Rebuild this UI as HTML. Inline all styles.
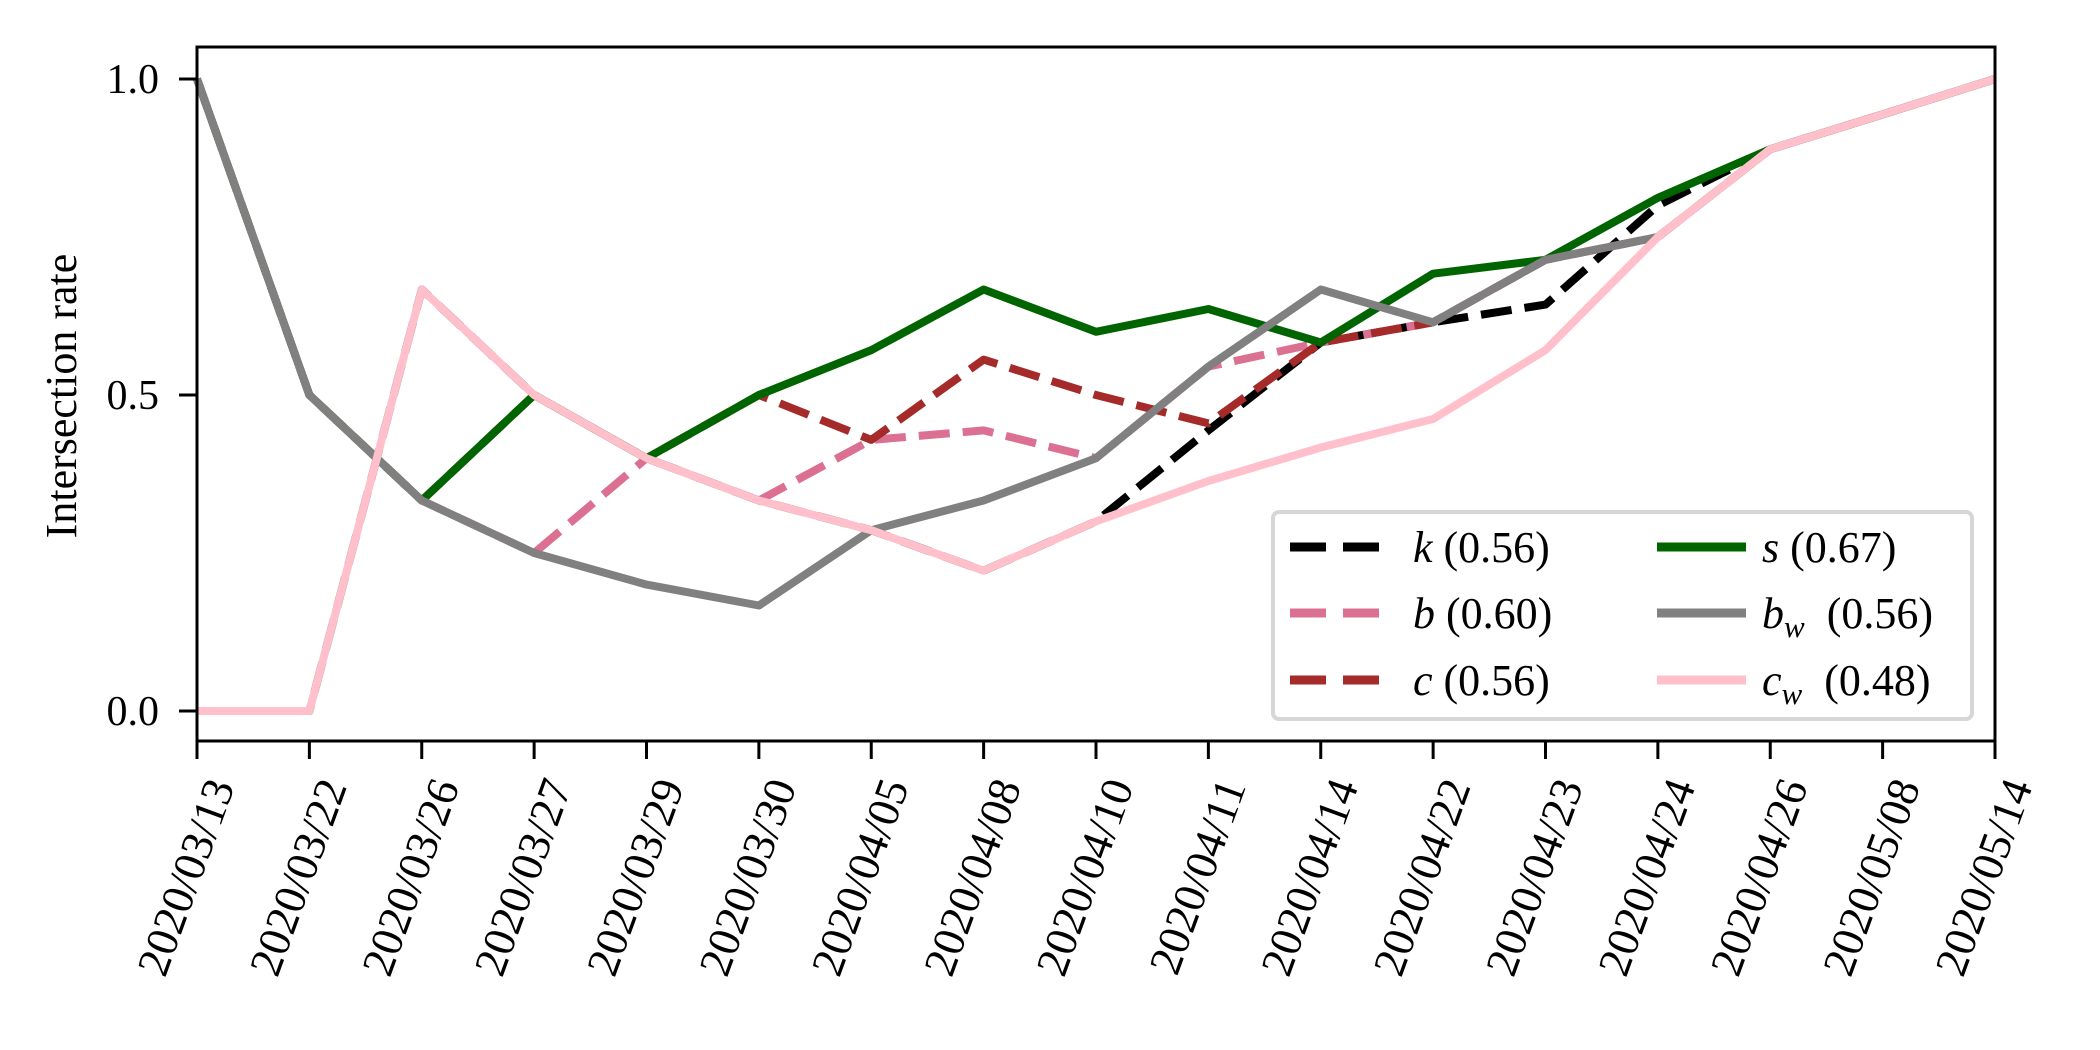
<!DOCTYPE html>
<html><head><meta charset="utf-8">
<style>
html,body{margin:0;padding:0;background:#fff;}
svg{display:block;font-family:"Liberation Serif",serif;}
</style></head>
<body>
<svg id="chart" width="2100" height="1050" viewBox="0 0 2100 1050" xmlns="http://www.w3.org/2000/svg">
<rect x="0" y="0" width="2100" height="1050" fill="#fff"/>
<g id="plot"></g>
<g id="axes"></g>
<g id="legend"></g>
</svg>
<script>
const categories = ["2020/03/13","2020/03/22","2020/03/26","2020/03/27","2020/03/29","2020/03/30","2020/04/05","2020/04/08","2020/04/10","2020/04/11","2020/04/14","2020/04/22","2020/04/23","2020/04/24","2020/04/26","2020/05/08","2020/05/14"];
const kValues  = [0,0,0.667,0.5,0.4,0.333,0.286,0.222,0.3,0.444,0.583,0.615,0.643,0.8,0.889,0.944,1.0];
const bValues  = [1.0,0.5,0.333,0.25,0.4,0.333,0.429,0.444,0.4,0.545,0.583,0.615,0.714,0.75,0.889,0.944,1.0];
const cValues  = [1.0,0.5,0.333,0.5,0.4,0.5,0.429,0.556,0.5,0.455,0.583,0.615,0.714,0.75,0.889,0.944,1.0];
const sValues  = [1.0,0.5,0.333,0.5,0.4,0.5,0.571,0.667,0.6,0.636,0.583,0.692,0.714,0.812,0.889,0.944,1.0];
const bwValues = [1.0,0.5,0.333,0.25,0.2,0.167,0.286,0.333,0.4,0.545,0.667,0.615,0.714,0.75,0.889,0.944,1.0];
const cwValues = [0,0,0.667,0.5,0.4,0.333,0.286,0.222,0.3,0.364,0.417,0.462,0.571,0.75,0.889,0.944,1.0];
const yTicks = [0.0,0.5,1.0];
const yTickLabels = ["0.0","0.5","1.0"];
const seriesNames = ["k","b","c","s","b_w","c_w"];
const seriesScores = ["0.56","0.60","0.56","0.67","0.56","0.48"];

const NS="http://www.w3.org/2000/svg";
const L=197, R=1995, T=47, B=741;
const Y0=711, Y1=79;
function xs(i){return L + i*(R-L)/(categories.length-1);}
function ys(v){return Y0 + v*(Y1-Y0);}
function mk(tag,attrs,parent){const e=document.createElementNS(NS,tag);for(const k in attrs)e.setAttribute(k,attrs[k]);parent.appendChild(e);return e;}

const plot=document.getElementById('plot');
const axes=document.getElementById('axes');
const legend=document.getElementById('legend');

const series=[
 {vals:kValues,color:"#000000",dash:"31 13",name:"series-k"},
 {vals:bValues,color:"#db7093",dash:"31 13",name:"series-b"},
 {vals:cValues,color:"#a52a2a",dash:"31 13",name:"series-c"},
 {vals:sValues,color:"#006400",dash:"",name:"series-s"},
 {vals:bwValues,color:"#808080",dash:"",name:"series-b-w"},
 {vals:cwValues,color:"#ffc0cb",dash:"",name:"series-c-w"}
];
series.forEach(s=>{
  const d=s.vals.map((v,i)=>(i?"L":"M")+xs(i).toFixed(1)+","+ys(v).toFixed(1)).join(" ");
  const p=mk('path',{d:d,fill:"none",stroke:s.color,"stroke-width":8,"stroke-linejoin":"round"},plot);
  if(s.dash)p.setAttribute('stroke-dasharray',s.dash);
  
  
});

const frame=mk('rect',{x:L,y:T,width:R-L,height:B-T,fill:"none",stroke:"#000","stroke-width":3},axes);



yTicks.forEach((v,i)=>{
  const y=ys(v);
  const t=mk('line',{x1:L-18,x2:L,y1:y,y2:y,stroke:"#000","stroke-width":3},axes);
  
  
  const lb=mk('text',{x:L-38,y:y+14,"font-size":42,"text-anchor":"end",fill:"#000"},axes);
  lb.textContent=yTickLabels[i];
  
  
});
categories.forEach((c,i)=>{
  const x=xs(i);
  const t=mk('line',{x1:x,x2:x,y1:B,y2:B+18,stroke:"#000","stroke-width":3},axes);
  
  
  const ax=x+38, ay=786;
  const lb=mk('text',{x:ax,y:ay,"font-size":45,"text-anchor":"end",fill:"#000",transform:"rotate(-70 "+ax+" "+ay+")"},axes);
  lb.textContent=c;
  
  
});
const yt=mk('text',{x:0,y:0,"font-size":44,"text-anchor":"middle",fill:"#000",transform:"translate(76 396) rotate(-90)"},axes);
yt.textContent="Intersection rate";



const lbox=mk('rect',{x:1273,y:512,width:699,height:207,rx:6,fill:"#fff","fill-opacity":0.85,stroke:"#d6d6d6","stroke-width":4},legend);


const rowsY=[547,613,680];
const subs=[null,null,null,null,"w","w"];
const bases=["k","b","c","s","b","c"];
series.forEach((s,i)=>{
  const col=Math.floor(i/3), row=i%3;
  const y=rowsY[row];
  const hx=col?1657:1290, tx=col?1762:1413;
  const h=mk('line',{x1:hx,x2:hx+89,y1:y,y2:y,stroke:s.color,"stroke-width":9},legend);
  if(s.dash)h.setAttribute('stroke-dasharray',"36 17");
  
  
  const t=mk('text',{x:tx,y:y+15,"font-size":44,fill:"#000"},legend);
  
  
  const it=mk('tspan',{"font-style":"italic"},t); it.textContent=bases[i];
  if(subs[i]){const sb=mk('tspan',{"font-style":"italic","font-size":31,dy:9},t);sb.textContent=subs[i];
    const rest=mk('tspan',{dy:-9},t);rest.textContent="\u2002("+seriesScores[i]+")";}
  else{const rest=mk('tspan',{},t);rest.textContent=" ("+seriesScores[i]+")";}
});
</script>
</body></html>
